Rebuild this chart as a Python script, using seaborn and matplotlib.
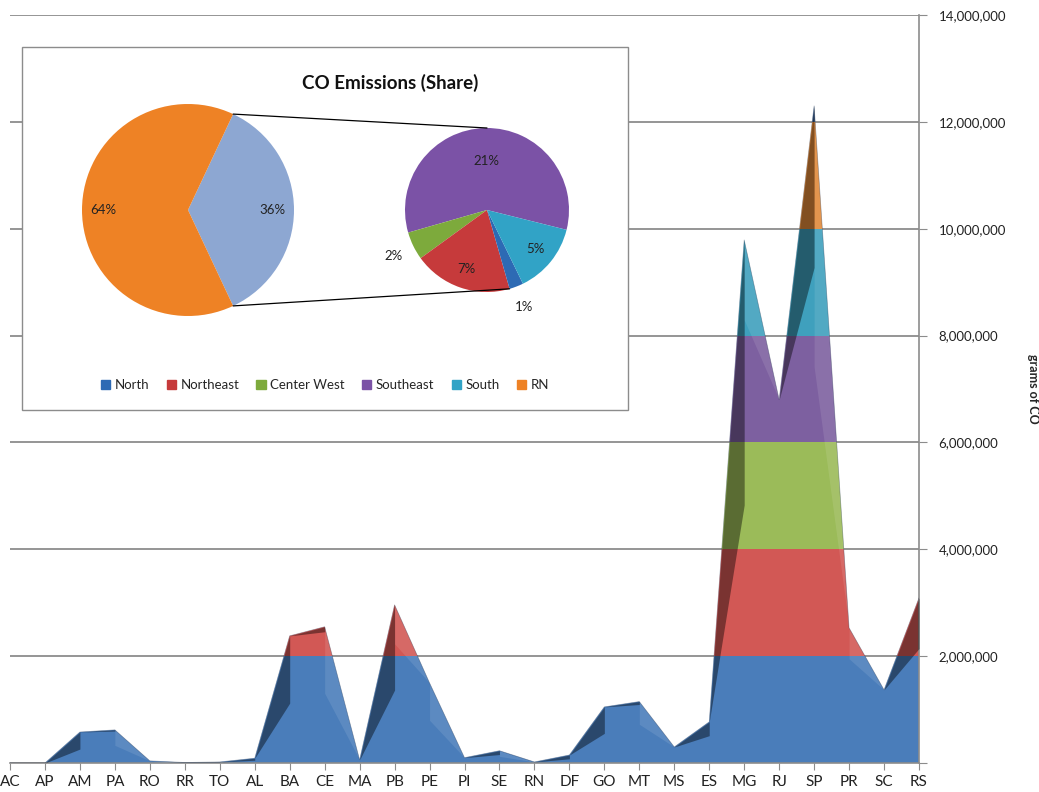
import numpy as np
import matplotlib
matplotlib.use("Agg")
import matplotlib.pyplot as plt
import seaborn as sns
from matplotlib.patches import Patch, Rectangle
from matplotlib.ticker import FuncFormatter

# CO emissions by state (grams of CO)
states = ["AC", "AP", "AM", "PA", "RO", "RR", "TO", "AL", "BA", "CE", "MA", "PB", "PE", "PI",
          "SE", "RN", "DF", "GO", "MT", "MS", "ES", "MG", "RJ", "SP", "PR", "SC", "RS"]
co_grams = [0, 0, 580000, 620000, 40000, 10000, 20000, 90000, 2380000, 2550000, 60000, 2960000,
            1500000, 100000, 230000, 20000, 150000, 1050000, 1150000, 300000, 770000, 9790000,
            6800000, 12300000, 2530000, 1370000, 3090000]

# share pie (percent)
regions = ["North", "Northeast", "Center West", "Southeast", "South"]
region_share = [1, 7, 2, 21, 5]
rest_label = "RN"
rest_share = 64

band_colors = ["#4A7DBA", "#D25855", "#9BBB59", "#7D60A0", "#3FA0BD", "#E0893A", "#3B5E8C"]
region_colors = {"North": "#2D6AB4", "Northeast": "#C63A3B", "Center West": "#7DAA3C",
                 "Southeast": "#7B52A6", "South": "#31A3C6", "RN": "#EE8225"}
other_color = "#8DA7D2"

sns.set_style("white")
plt.rcParams["font.family"] = ["Lato", "DejaVu Sans"]

fig = plt.figure(figsize=(10.39, 7.92), dpi=100)
ax = fig.add_axes([10/1039, 29/792, 909/1039, 748/792])

x = np.arange(len(states))
y = np.array(co_grams, dtype=float)
step = 2000000

# area outline used as clip path for the coloured value bands
base = ax.fill_between(x, y, 0, color="none", lw=0)
clip = base.get_paths()[0]
for k, c in enumerate(band_colors):
    span = ax.axhspan(k*step, (k+1)*step, color=c, lw=0, zorder=2)
    span.set_clip_path(clip, ax.transData)

# fake 3d shading: dark wedge under rising slopes, faint light under falling ones
for i in range(len(x) - 1):
    y0, y1 = y[i], y[i+1]
    if y1 > y0:
        ax.fill_between(x[i:i+2], [y0, y1], [y0, y0 + 0.45*(y1 - y0)],
                        color="black", alpha=0.42, lw=0, zorder=3)
    elif y1 < y0:
        ax.fill_between(x[i:i+2], [y0, y1], [y1 + 0.5*(y0 - y1), y1],
                        color="white", alpha=0.1, lw=0, zorder=3)

sns.lineplot(x=x, y=y, ax=ax, color="#1d2f4a", lw=0.5, alpha=0.4, zorder=4)

ax.set_xlim(0, len(states) - 1)
ax.set_ylim(0, 14000000)
ax.set_xticks(x)
ax.set_xticklabels(states, fontsize=11, color="#222222")
ax.set_yticks(np.arange(0, 14000001, step))
ax.yaxis.set_major_formatter(FuncFormatter(lambda v, p: "" if v == 0 else f"{int(v):,}"))
ax.yaxis.tick_right()
ax.yaxis.set_label_position("right")
ax.set_ylabel("grams of CO", rotation=270, fontsize=9, fontweight="bold", va="center")
ax.yaxis.set_label_coords(1.125, 0.5)
ax.tick_params(axis="y", direction="out", length=6, color="#8c8c8c", labelsize=9.5,
               labelcolor="#222222", pad=8, right=True, left=False)
ax.tick_params(axis="x", direction="out", length=5, color="#8c8c8c", pad=4, bottom=True)
ax.grid(axis="y", color="#8c8c8c", lw=1.3, zorder=0)
ax.set_axisbelow(True)
for s in ["top", "left"]:
    ax.spines[s].set_visible(False)
for s in ["right", "bottom"]:
    ax.spines[s].set_color("#8c8c8c")
    ax.spines[s].set_linewidth(1.2)

# inset pie-of-pie
ins = fig.add_axes([22/1039, 382/792, 606/1039, 363/792], zorder=5)
ins.axis("off")
ins.add_patch(Rectangle((0, 0), 1, 1, transform=ins.transAxes, facecolor="white",
                        edgecolor="#8c8c8c", lw=1, zorder=0, clip_on=False))

other = sum(region_share)
big_c, big_r = (188, 582), 106
half = other / 100 * 180
ins.pie([other, rest_share], colors=[other_color, region_colors[rest_label]],
        startangle=-half, center=big_c, radius=big_r, frame=True,
        wedgeprops=dict(lw=0), autopct="%.0f%%", pctdistance=0.8,
        textprops=dict(fontsize=9.5, color="#222222"))

order = [3, 2, 1, 0, 4]
small_vals = [region_share[i] for i in order]
small_names = [regions[i] for i in order]
small_c, small_r = (487, 582), 82
wedges, _ = ins.pie(small_vals, colors=[region_colors[n] for n in small_names],
                    startangle=-14, center=small_c, radius=small_r, frame=True,
                    wedgeprops=dict(lw=0))
for w, v in zip(wedges, small_vals):
    mid = np.deg2rad((w.theta1 + w.theta2) / 2)
    d = 1.27 if v < 3 else (0.6 if v > 15 else 0.76)
    ins.text(small_c[0] + d*small_r*np.cos(mid), small_c[1] + d*small_r*np.sin(mid),
             f"{v}%", ha="center", va="center", fontsize=9.5, color="#222222")

# connector lines
a = np.deg2rad(half)
ne = wedges[small_names.index("Northeast")]
b = np.deg2rad(ne.theta2)
ins.plot([big_c[0] + big_r*np.cos(a), small_c[0]],
         [big_c[1] + big_r*np.sin(a), small_c[1] + small_r], color="black", lw=0.9)
ins.plot([big_c[0] + big_r*np.cos(a), small_c[0] + small_r*np.cos(b)],
         [big_c[1] - big_r*np.sin(a), small_c[1] + small_r*np.sin(b)], color="black", lw=0.9)

ins.set_xlim(22, 628)
ins.set_ylim(382, 745)
ins.set_aspect("auto")

ins.text(390, 709, "CO Emissions (Share)", ha="center", va="center",
         fontsize=13.5, fontweight="bold", color="#111111")

handles = [Patch(color=region_colors[n], label=n) for n in regions + [rest_label]]
ins.legend(handles=handles, ncol=6, loc="center", bbox_to_anchor=(0.5, 0.069),
           bbox_transform=ins.transAxes, frameon=False, fontsize=9.5,
           handlelength=0.7, handleheight=0.7, handletextpad=0.35, columnspacing=1.3)

fig.savefig("out.png", dpi=100)
